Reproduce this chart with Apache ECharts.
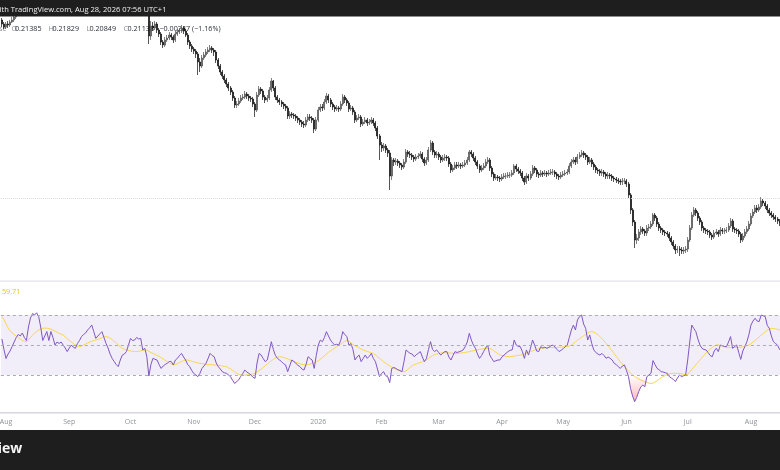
<!DOCTYPE html>
<html>
<head>
<meta charset="utf-8">
<title>Daily chart with RSI</title>
<script src="https://cdn.jsdelivr.net/npm/echarts@6/dist/echarts.min.js"></script>
<style>
	html, body { margin: 0; padding: 0; background: #ffffff; }
	#chart { width: 780px; height: 470px; }
</style>
</head>
<body>
<div id="chart"></div>
<script>
// daily candles, first day 2025-07-30
var monthNames = ['Jan', 'Feb', 'Mar', 'Apr', 'May', 'Jun', 'Jul', 'Aug', 'Sep', 'Oct', 'Nov', 'Dec'];
var firstOpen = 0.428;

var closes = [
	0.424,0.421,0.424,0.423,0.426,0.428,0.431,0.434,0.438,0.440,
	0.443,0.441,0.439,0.446,0.452,0.456,0.457,0.460,0.460,0.456,
	0.450,0.452,0.455,0.451,0.454,0.452,0.448,0.449,0.448,0.449,
	0.447,0.445,0.443,0.445,0.447,0.446,0.445,0.447,0.449,0.451,
	0.452,0.453,0.455,0.456,0.458,0.455,0.451,0.452,0.453,0.455,
	0.452,0.449,0.447,0.445,0.443,0.441,0.440,0.439,0.442,0.445,
	0.446,0.447,0.450,0.453,0.452,0.452,0.454,0.453,0.454,0.450,
	0.451,0.448,0.412,0.422,0.420,0.424,0.418,0.414,0.406,0.403,
	0.408,0.410,0.413,0.411,0.408,0.414,0.416,0.417,0.420,0.417,
	0.413,0.406,0.402,0.399,0.397,0.394,0.386,0.382,0.390,0.393,
	0.396,0.398,0.400,0.398,0.396,0.388,0.382,0.376,0.372,0.368,
	0.364,0.360,0.356,0.350,0.343,0.344,0.347,0.350,0.351,0.354,
	0.352,0.350,0.349,0.344,0.338,0.353,0.359,0.357,0.351,0.348,
	0.350,0.358,0.367,0.360,0.351,0.348,0.346,0.344,0.342,0.340,
	0.332,0.334,0.333,0.332,0.330,0.328,0.326,0.324,0.323,0.328,
	0.331,0.330,0.328,0.319,0.328,0.338,0.341,0.340,0.346,0.352,
	0.348,0.344,0.341,0.339,0.340,0.339,0.344,0.351,0.348,0.345,
	0.339,0.340,0.336,0.328,0.330,0.331,0.324,0.326,0.328,0.325,
	0.326,0.328,0.325,0.320,0.312,0.303,0.300,0.302,0.298,0.295,
	0.272,0.288,0.286,0.287,0.285,0.283,0.281,0.286,0.296,0.294,
	0.293,0.291,0.289,0.291,0.292,0.294,0.289,0.285,0.288,0.298,
	0.305,0.296,0.293,0.294,0.291,0.288,0.290,0.291,0.290,0.284,
	0.278,0.280,0.283,0.282,0.283,0.282,0.283,0.285,0.288,0.296,
	0.294,0.290,0.286,0.282,0.278,0.280,0.282,0.286,0.288,0.280,
	0.274,0.270,0.271,0.270,0.269,0.271,0.272,0.272,0.273,0.273,
	0.275,0.282,0.279,0.277,0.275,0.270,0.266,0.272,0.270,0.274,
	0.280,0.278,0.274,0.273,0.275,0.274,0.275,0.274,0.275,0.276,
	0.276,0.274,0.272,0.271,0.273,0.274,0.275,0.276,0.282,0.286,
	0.288,0.286,0.291,0.293,0.295,0.293,0.291,0.286,0.288,0.284,
	0.281,0.278,0.277,0.275,0.276,0.274,0.272,0.273,0.272,0.270,
	0.269,0.268,0.267,0.266,0.267,0.267,0.264,0.253,0.238,0.226,
	0.208,0.210,0.216,0.219,0.217,0.215,0.220,0.221,0.224,0.233,
	0.230,0.224,0.220,0.218,0.216,0.215,0.214,0.210,0.206,0.202,
	0.198,0.199,0.198,0.197,0.198,0.199,0.208,0.220,0.233,0.238,
	0.235,0.230,0.226,0.220,0.218,0.217,0.216,0.213,0.211,0.215,
	0.216,0.214,0.218,0.217,0.217,0.218,0.222,0.227,0.219,0.218,
	0.217,0.214,0.208,0.212,0.216,0.219,0.224,0.232,0.236,0.240,
	0.238,0.241,0.247,0.245,0.242,0.238,0.235,0.233,0.231,0.229,
	0.227,0.225,0.223,0.221,0.219,0.220,0.217,0.215,0.216,0.213,
	0.214,0.212,0.213,0.21385,0.21138
];

var highs = [
	0.430,0.426,0.426,0.427,0.428,0.431,0.434,0.437,0.441,0.443,
	0.446,0.445,0.443,0.449,0.455,0.459,0.460,0.463,0.464,0.462,
	0.458,0.454,0.457,0.457,0.456,0.456,0.454,0.451,0.451,0.451,
	0.451,0.449,0.447,0.447,0.450,0.449,0.448,0.450,0.451,0.453,
	0.454,0.455,0.457,0.459,0.461,0.460,0.456,0.454,0.455,0.457,
	0.457,0.454,0.451,0.449,0.447,0.445,0.443,0.442,0.445,0.447,
	0.448,0.449,0.452,0.455,0.455,0.455,0.456,0.456,0.456,0.456,
	0.453,0.453,0.450,0.427,0.426,0.427,0.426,0.420,0.416,0.408,
	0.411,0.413,0.416,0.415,0.413,0.417,0.419,0.420,0.423,0.422,
	0.419,0.415,0.408,0.404,0.401,0.399,0.396,0.390,0.393,0.396,
	0.399,0.401,0.403,0.402,0.400,0.398,0.390,0.384,0.378,0.374,
	0.370,0.366,0.362,0.358,0.352,0.347,0.350,0.353,0.354,0.357,
	0.356,0.354,0.352,0.351,0.346,0.356,0.362,0.361,0.359,0.353,
	0.353,0.361,0.370,0.368,0.362,0.353,0.350,0.348,0.346,0.344,
	0.342,0.337,0.336,0.335,0.334,0.332,0.330,0.328,0.327,0.331,
	0.334,0.334,0.332,0.330,0.331,0.341,0.344,0.344,0.349,0.355,
	0.354,0.350,0.346,0.343,0.343,0.342,0.347,0.354,0.353,0.350,
	0.347,0.343,0.342,0.338,0.333,0.334,0.333,0.329,0.331,0.330,
	0.329,0.331,0.330,0.327,0.322,0.314,0.306,0.305,0.304,0.300,
	0.298,0.291,0.290,0.290,0.289,0.287,0.285,0.289,0.299,0.298,
	0.297,0.295,0.293,0.294,0.295,0.297,0.296,0.291,0.291,0.301,
	0.308,0.307,0.298,0.297,0.296,0.293,0.293,0.294,0.293,0.292,
	0.286,0.283,0.286,0.286,0.286,0.285,0.286,0.288,0.291,0.298,
	0.298,0.296,0.292,0.288,0.284,0.283,0.285,0.289,0.291,0.290,
	0.282,0.276,0.274,0.273,0.272,0.274,0.275,0.275,0.276,0.276,
	0.278,0.284,0.284,0.281,0.279,0.277,0.272,0.275,0.274,0.277,
	0.283,0.282,0.280,0.276,0.278,0.277,0.278,0.277,0.278,0.279,
	0.279,0.278,0.276,0.274,0.276,0.277,0.278,0.279,0.285,0.289,
	0.291,0.291,0.294,0.296,0.298,0.297,0.295,0.293,0.291,0.290,
	0.286,0.283,0.280,0.279,0.279,0.278,0.276,0.276,0.275,0.274,
	0.272,0.271,0.270,0.269,0.270,0.270,0.269,0.266,0.255,0.240,
	0.228,0.214,0.219,0.222,0.221,0.219,0.223,0.224,0.227,0.235,
	0.235,0.232,0.226,0.222,0.220,0.218,0.217,0.216,0.212,0.208,
	0.204,0.202,0.202,0.201,0.201,0.202,0.211,0.223,0.236,0.241,
	0.240,0.237,0.232,0.228,0.222,0.220,0.219,0.218,0.215,0.218,
	0.219,0.218,0.221,0.220,0.220,0.221,0.225,0.230,0.229,0.221,
	0.220,0.219,0.216,0.215,0.219,0.222,0.227,0.235,0.239,0.243,
	0.243,0.244,0.251,0.249,0.247,0.244,0.240,0.237,0.235,0.233,
	0.231,0.229,0.227,0.225,0.223,0.223,0.222,0.219,0.219,0.218,
	0.217,0.216,0.216,0.217,0.21829
];

var lows = [
	0.421,0.419,0.419,0.420,0.421,0.425,0.426,0.429,0.433,0.436,
	0.438,0.438,0.436,0.436,0.444,0.450,0.453,0.455,0.456,0.453,
	0.447,0.448,0.450,0.448,0.449,0.449,0.445,0.445,0.445,0.446,
	0.444,0.442,0.440,0.440,0.443,0.443,0.442,0.443,0.445,0.447,
	0.449,0.450,0.451,0.453,0.454,0.452,0.448,0.449,0.450,0.451,
	0.449,0.446,0.444,0.442,0.440,0.438,0.437,0.435,0.437,0.440,
	0.442,0.443,0.445,0.448,0.449,0.449,0.450,0.450,0.451,0.447,
	0.448,0.445,0.404,0.408,0.417,0.418,0.415,0.411,0.403,0.400,
	0.401,0.406,0.408,0.408,0.405,0.406,0.412,0.414,0.415,0.414,
	0.411,0.403,0.399,0.396,0.394,0.390,0.373,0.376,0.380,0.388,
	0.391,0.394,0.396,0.395,0.392,0.385,0.379,0.373,0.369,0.365,
	0.361,0.357,0.353,0.347,0.340,0.340,0.342,0.345,0.348,0.349,
	0.349,0.347,0.346,0.341,0.331,0.336,0.351,0.354,0.348,0.345,
	0.346,0.348,0.356,0.357,0.348,0.345,0.343,0.341,0.339,0.337,
	0.329,0.329,0.330,0.329,0.327,0.325,0.323,0.321,0.320,0.321,
	0.326,0.327,0.325,0.315,0.317,0.326,0.336,0.337,0.338,0.344,
	0.345,0.341,0.338,0.336,0.337,0.336,0.337,0.342,0.345,0.342,
	0.336,0.337,0.333,0.325,0.326,0.328,0.321,0.322,0.324,0.322,
	0.323,0.324,0.322,0.317,0.309,0.288,0.296,0.297,0.295,0.291,
	0.258,0.268,0.282,0.283,0.282,0.280,0.278,0.279,0.284,0.291,
	0.290,0.288,0.286,0.287,0.289,0.290,0.286,0.282,0.283,0.286,
	0.296,0.293,0.290,0.290,0.288,0.285,0.286,0.287,0.287,0.281,
	0.275,0.276,0.278,0.279,0.280,0.279,0.280,0.281,0.283,0.286,
	0.291,0.287,0.283,0.279,0.275,0.276,0.278,0.280,0.284,0.277,
	0.271,0.267,0.268,0.267,0.266,0.267,0.269,0.269,0.270,0.270,
	0.271,0.273,0.276,0.274,0.272,0.267,0.263,0.264,0.267,0.268,
	0.272,0.275,0.271,0.270,0.271,0.271,0.272,0.271,0.272,0.273,
	0.273,0.271,0.269,0.268,0.269,0.271,0.272,0.273,0.274,0.280,
	0.284,0.283,0.284,0.289,0.291,0.290,0.288,0.283,0.284,0.281,
	0.278,0.275,0.274,0.272,0.272,0.271,0.269,0.269,0.269,0.267,
	0.266,0.265,0.264,0.263,0.263,0.264,0.261,0.250,0.234,0.222,
	0.200,0.204,0.207,0.213,0.214,0.212,0.212,0.217,0.219,0.222,
	0.227,0.221,0.217,0.215,0.213,0.212,0.211,0.207,0.203,0.199,
	0.194,0.195,0.192,0.194,0.194,0.195,0.196,0.206,0.218,0.231,
	0.232,0.227,0.223,0.217,0.215,0.214,0.213,0.210,0.208,0.209,
	0.213,0.211,0.212,0.214,0.214,0.215,0.216,0.220,0.216,0.215,
	0.214,0.211,0.205,0.206,0.210,0.214,0.217,0.222,0.230,0.234,
	0.235,0.236,0.239,0.242,0.239,0.235,0.232,0.230,0.228,0.226,
	0.224,0.222,0.220,0.218,0.216,0.216,0.214,0.212,0.212,0.210,
	0.210,0.209,0.210,0.210,0.20849
];

var rsiValues = [
	54,47,41,44,46,49,52,55,57,56,
	58,55,53,62,68,71,70,71.5,69,62,
	53,56,59,53,59,55,50,52,51,52,
	50,48,45.6,48,50,48.5,47.8,51,53,55.6,
	57,58,60,61.5,63.3,59,54.4,56,57.5,58.9,
	55,51.1,48,44,41.1,39,37,35.6,40,43.3,
	44,45.6,50,54.4,53,53.3,55,54,54.4,46.7,
	47.8,42.2,29.3,37,41.1,40.5,40,37,34.4,36,
	37,37.8,39,38.9,36.7,40,41.1,43,44.4,42,
	40,37,35.6,33,31,30,28.9,31,34.4,36,
	37.8,41,44.4,43,42.2,38,35.6,34,32.2,31.5,
	31.1,30,28.9,26.5,24.4,25.5,26.7,29,31,33.3,
	32,31.1,30,28.5,27.8,38,44.4,43.3,41,38.9,
	40,46,52.2,47,43,41.1,40,38.9,37.5,36.7,
	32.2,36,40,39,37.8,36.5,35.6,34,33.3,37,
	42.2,41,40,34.4,43,50,53.3,52.2,55,58.9,
	56,53.3,51.5,50,50.5,50,53,58.9,57,55.6,
	50,51,47,40,42,43.3,38.9,41,43.3,41.1,
	42.5,44.4,41,38.9,34,28.9,31,32.2,29.5,28.9,
	24.9,34.4,35,34.4,33.5,33,32.2,38.9,46.7,45.5,
	44.4,44,42.2,43.5,44.5,45.6,42,38.9,41.1,47,
	52.2,47,45.6,46.7,45,43.3,44.5,45.6,45.6,42,
	40,43,45.6,45,45.5,46,46.7,48.9,52,57.8,
	53.3,50,47.8,44,41.1,43,45.6,48,50,43.3,
	41,38.9,39.5,40,40,42,43.3,44.5,45.6,46.5,
	46.7,53.3,50,49,48.9,45.6,41.1,46.7,43.3,48,
	53.3,50,46,45.6,48.9,48,48.5,47.8,48.5,49.5,
	50,48.5,47,45.6,46.5,47.5,48.9,50,55,60,
	63.3,60,66.7,68.9,70,64,61.1,53.3,56.7,51,
	46.7,45,44,43.3,44.4,43,41.1,42,41.1,40,
	37.8,37,35.5,34.4,36,36.7,33,28.9,21,16,
	12.2,15,18.9,22,23.3,22.2,28.9,30,31.1,39.6,
	37,34.4,33.5,32.2,32,31.5,31.1,28.9,28,27,
	25.6,28,30,28.9,29.5,30,40,52,63.3,61,
	58.9,54,50,47.8,47,46.7,45,43,42.2,46,
	47.8,45.6,50,49.5,49,48.9,52,55.6,47.8,49,
	50,45,40.4,46,48.9,52.2,57,63.3,66,67.8,
	66,65.6,70,69.5,68.9,63,61.1,56,52.2,51,
	50,47,45.6,43,41,42.5,40,38,39.5,37,
	38,36.5,35,37,35.5
];

var rsiMa = [
	69,67,64,61.5,59.5,58,57,56,55,54,
	53,52.5,52.2,53.5,55,56.5,58,59,60,60.7,
	61.1,61.3,61.2,61,60.5,60,59.3,58.6,57.8,57.2,
	56.7,55.5,54.3,53,52,51,50,49.3,48.9,49.3,
	50,50.7,51.3,52,52.5,53,53.3,53.8,54.3,54.8,
	55.3,55.6,55.3,54.6,53.6,52.5,51.3,50,48.9,47.8,
	47.2,46.7,46.3,46,45.8,45.6,45.6,45.8,46.1,46.4,
	46.6,46.7,45.8,45,44.4,43.7,43,42.4,41.6,40.7,
	39.8,38.9,38,37.3,36.7,37,37.6,38.3,39,39.6,
	40,40,39.6,39.2,38.8,38.4,38,37.8,37.6,37.4,
	37.2,37,36.9,36.8,36.7,36.6,36.5,36.3,36,35.8,
	35.6,34.8,34,33.1,32.2,31.3,30.5,30,29.9,29.9,
	30,30.1,30.4,30.7,31.2,32,33,34,35,36.2,
	37.3,38.4,39.5,40.5,41.3,41.9,42.2,42.1,41.7,41.2,
	40.7,40.2,39.7,39.1,38.5,38,37.5,37.1,36.8,36.7,
	36.9,37.3,37.8,38.3,38.8,39.5,40.5,41.6,42.8,44,
	45.1,46.1,47,48,48.9,49.8,50.7,51.6,52.5,53.3,
	52.5,51.5,50.3,49.5,48.8,48.1,47.4,46.7,46.2,45.7,
	45.2,44.8,44.4,43.3,42.2,41.1,40,38.9,37.9,37,
	36.1,35.2,34.4,33.9,33.3,32.8,32.4,32.2,32.8,33.9,
	35,36.2,36.9,37.4,37.9,38.4,38.8,39.3,40.1,41,
	42,43,43.6,44,44.3,44.6,44.9,44.9,44.8,44.7,
	44.6,44.5,44.4,44.4,44.5,44.7,44.9,45.1,45.3,45.6,
	45.9,46.2,46.5,46.8,47.1,47.3,47.5,47.7,47.8,47.8,
	47.1,46.2,45.2,44.2,43.3,43,42.7,42.5,42.3,42.2,
	42.4,42.6,42.9,43.1,43.3,43.8,44.3,44.8,45.3,45.7,
	46.1,46.6,47.1,47.6,47.9,48,48.1,48.2,48.3,48.3,
	48.4,48.4,48.4,48.5,48.6,48.7,48.9,49.1,49.3,50,
	51,52.1,53.2,54.2,55.2,56.2,57.1,58,58.8,58.9,
	58.6,57.8,56.8,55.6,54.2,52.7,51.1,49.5,47.8,46,
	44.2,42.4,40.6,38.9,37.3,35.7,34.1,32.6,31.1,30.1,
	29.1,28.2,27.4,26.7,26.1,25.5,25,24.6,24.4,24.6,
	25.3,26.2,27.2,28.2,29,29.7,30.3,30.8,31.1,31.1,
	31.1,31.1,31.1,30.8,30.5,30.1,30.5,32,33.6,35.2,
	36.8,38.4,40,41.6,43.2,44.8,46.1,47.2,48.3,49.3,
	50,50,49.7,49.3,48.8,48.4,48.3,48.3,48.3,48.3,
	48.4,48.4,48.5,48.8,49.2,49.6,50,50.8,51.9,53,
	54.2,55.4,56.6,57.7,58.8,59.8,60.8,61.1,61,60.8,
	60.4,60,59.6,59.2,58.9,58.7,58.6,58.7,58.9,59.1,
	59.3,59.5,59.6,59.7,59.71
];

var rsiUpper = 70;
var rsiMiddle = 50;
var rsiLower = 30;
var markedPrice = 0.25;

// categories: one per day
var dates = [];
var t0 = Date.UTC(2025, 6, 30);
for (var i = 0; i < closes.length; i++) {
	dates.push(new Date(t0 + i * 86400000).toISOString().slice(0, 10));
}

var candles = [];
for (var j = 0; j < closes.length; j++) {
	var open = j === 0 ? firstOpen : closes[j - 1];
	candles.push([open, closes[j], lows[j], highs[j]]);
}

var dayWidth = 2.041;
var gridLeft = 0.9;
var gridWidth = dates.length * dayWidth;

var font = '"Open Sans", "Noto Sans", sans-serif';

var chart = echarts.init(document.getElementById('chart'), null, { renderer: 'canvas' });

function legendText(x, y, text, color) {
	return {
		type: 'text', z: 0, x: x, y: y,
		style: { text: text, font: '7.2px ' + font, fill: color, align: 'left', verticalAlign: 'middle' }
	};
}

var option = {
	animation: false,
	backgroundColor: '#ffffff',
	grid: [
		{ left: gridLeft, width: gridWidth, top: 0, height: 281, outerBoundsMode: 'none', containLabel: false },
		{ left: gridLeft, width: gridWidth, top: 281, height: 132, outerBoundsMode: 'none', containLabel: false }
	],
	xAxis: [
		{
			type: 'category', gridIndex: 0, data: dates, boundaryGap: true,
			axisLine: { show: false }, axisTick: { show: false },
			axisLabel: { show: false }, splitLine: { show: false }
		},
		{
			type: 'category', gridIndex: 1, data: dates, boundaryGap: true,
			axisLine: { show: false }, axisTick: { show: false },
			splitLine: { show: false },
			axisLabel: {
				show: true,
				margin: 5,
				color: '#8f9299',
				fontSize: 7,
				fontFamily: font,
				interval: function (index, value) {
					return value.slice(8) === '01';
				},
				formatter: function (value) {
					var m = +value.slice(5, 7);
					return m === 1 ? value.slice(0, 4) : monthNames[m - 1];
				}
			}
		}
	],
	yAxis: [
		{ type: 'value', gridIndex: 0, min: 0.167, max: 0.448, show: false, splitLine: { show: false } },
		{ type: 'value', gridIndex: 1, min: 4.667, max: 92.667, show: false, splitLine: { show: false } }
	],
	series: [
		{
			type: 'candlestick',
			xAxisIndex: 0,
			yAxisIndex: 0,
			data: candles,
			barWidth: 1.5,
			clip: true,
			itemStyle: {
				color: '#6f6f6f',
				borderColor: '#4d4d4d',
				color0: '#0d0d0d',
				borderColor0: '#0d0d0d',
				borderWidth: 0.7
			},
			markLine: {
				silent: true,
				symbol: 'none',
				label: { show: false },
				lineStyle: { color: '#d9dbe0', type: 'dotted', width: 1 },
				data: [{ yAxis: markedPrice }]
			}
		},
		{
			name: 'RSI',
			type: 'line',
			xAxisIndex: 1,
			yAxisIndex: 1,
			data: rsiValues,
			showSymbol: false,
			symbol: 'none',
			lineStyle: { color: '#7e57c2', width: 1 },
			areaStyle: {
				origin: rsiLower,
				color: {
					type: 'linear', global: true,
					x: 0, y: 270, x2: 0, y2: 420,
					colorStops: [
						{ offset: 0, color: 'rgba(76,175,80,1)' },
						{ offset: 0.3, color: 'rgba(76,175,80,0)' },
						{ offset: 0.3, color: 'rgba(255,82,82,0)' },
						{ offset: 0.7, color: 'rgba(255,82,82,0)' },
						{ offset: 1, color: 'rgba(255,82,82,1)' }
					]
				}
			},
			z: 4,
			markArea: {
				silent: true,
				itemStyle: { color: 'rgba(126,87,194,0.1)' },
				data: [[{ yAxis: rsiLower }, { yAxis: rsiUpper }]]
			},
			markLine: {
				silent: true,
				symbol: 'none',
				label: { show: false },
				lineStyle: { color: '#a9abb2', type: [3, 3], width: 1 },
				data: [{ yAxis: rsiUpper }, { yAxis: rsiMiddle }, { yAxis: rsiLower }]
			}
		},
		{
			name: 'RSI-based MA',
			type: 'line',
			xAxisIndex: 1,
			yAxisIndex: 1,
			data: rsiMa,
			showSymbol: false,
			symbol: 'none',
			lineStyle: { color: '#f9d649', width: 1 },
			z: 3
		}
	],
	graphic: [
		// legend text sits under the candles
		legendText(-1, 28.7, 'se', '#8a8d94'),
		legendText(11.5, 28.7, 'O', '#8a8d94'),
		legendText(15, 28.7, '0.21385', '#2a2e39'),
		legendText(48.5, 28.7, 'H', '#8a8d94'),
		legendText(52.5, 28.7, '0.21829', '#2a2e39'),
		legendText(86.5, 28.7, 'L', '#8a8d94'),
		legendText(89.5, 28.7, '0.20849', '#2a2e39'),
		legendText(123.5, 28.7, 'C', '#8a8d94'),
		legendText(127.5, 28.7, '0.21138', '#2a2e39'),
		legendText(159.5, 28.7, '\u22120.00247 (\u22121.16%)', '#2a2e39'),
		legendText(2, 291.5, '59.71', '#efbd2c'),

		// pane separators
		{ type: 'rect', z: 50, shape: { x: 0, y: 280.5, width: 780, height: 1.2 }, style: { fill: '#e0e3eb' } },
		{ type: 'rect', z: 50, shape: { x: 0, y: 412, width: 780, height: 1.6 }, style: { fill: '#d6d8de' } },

		// header and footer bars
		{ type: 'rect', z: 100, shape: { x: 0, y: 0, width: 780, height: 16.5 }, style: { fill: '#1e1e1e' } },
		{ type: 'text', z: 101, x: 166.5, y: 10.3, style: { text: 'with TradingView.com, Aug 28, 2026 07:56 UTC+1', font: '7.55px ' + font, fill: '#f0f0f0', align: 'right', verticalAlign: 'middle' } },
		{ type: 'rect', z: 100, shape: { x: 0, y: 430, width: 780, height: 40 }, style: { fill: '#1e1e1e' } },
		{ type: 'text', z: 101, x: 22.2, y: 449.5, style: { text: 'TradingView', font: 'bold 14px ' + font, fill: '#f5f5f5', align: 'right', verticalAlign: 'middle' } }
	]
};

chart.setOption(option);
</script>
</body>
</html>
